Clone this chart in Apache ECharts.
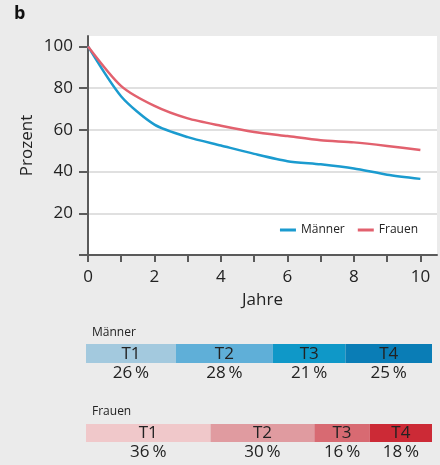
<!DOCTYPE html>
<html>
<head>
<meta charset="utf-8">
<script src="https://cdn.jsdelivr.net/npm/echarts@6/dist/echarts.min.js"></script>
<style>
html,body{margin:0;padding:0;background:#ebebeb;}
#c{width:440px;height:465px;}
</style>
</head>
<body>
<div id="c"></div>
<script>
// Data
var years = [0,1,2,3,4,5,6,7,8,9,10];
var maenner = [100,76,62.5,56.5,52.5,48.5,45,43.5,41.5,38.5,36.5];
var frauen  = [100,81,71.5,65.5,62,59,57,55,54,52.3,50.3];
var yTicks = [0,20,40,60,80,100];
var yLabels = [20,40,60,80,100];
var xTicks = [0,1,2,3,4,5,6,7,8,9,10];
var xLabels = [0,2,4,6,8,10];
var stadien = ['T1','T2','T3','T4'];
var maennerAnteil = [26,28,21,25];
var frauenAnteil  = [36,30,16,18];

var FONT = '"Open Sans", "Noto Sans", sans-serif';
var menColors = ['#a3c9de','#5fafd8','#0f98c8','#0a7db6'];
var womenColors = ['#f0c8ca','#e09ba0','#d86a72','#cc2a36'];
var axisCol = '#5a5a5a';

var chart = echarts.init(document.getElementById('c'), null, {renderer:'canvas'});

function barSeries(values, colors, stackName, axisIdx){
  return values.map(function(v,i){
    return {
      type:'bar', name: stadien[i], stack: stackName,
      xAxisIndex: axisIdx, yAxisIndex: axisIdx,
      barWidth: '100%',
      data:[v],
      itemStyle:{color: colors[i]},
      silent:true,
      label:{
        show:true, position:'inside', offset:[0,10],
        formatter: '{t|' + stadien[i] + '}\n{p|' + v + '\u2009%}',
        rich:{
          t:{fontSize:17, lineHeight:19, color:'#222', fontFamily:FONT},
          p:{fontSize:17, lineHeight:19, color:'#222', fontFamily:FONT}
        }
      }
    };
  });
}

var option = {
  backgroundColor:'#ebebeb',
  animation:false,
  textStyle:{fontFamily:FONT},
  graphic:[
    {type:'text', left:14, top:5, style:{text:'b', font:'bold 18px ' + FONT, fill:'#111'}},
    {type:'text', left:92, top:327, style:{text:'Männer', font:'12px ' + FONT, fill:'#222'}},
    {type:'text', left:92, top:406, style:{text:'Frauen', font:'12px ' + FONT, fill:'#222'}}
  ],
  legend:{
    data:['Männer','Frauen'],
    right:17, top:219,
    icon:'rect', itemWidth:16, itemHeight:3, itemGap:13,
    textStyle:{fontSize:12, color:'#222', fontFamily:FONT}
  },
  grid:[
    {left:88, right:3, top:36, bottom:210, show:true, backgroundColor:'#fff', borderWidth:0},
    {left:86, right:8, top:344, height:19},
    {left:86, right:8, top:424, height:18}
  ],
  xAxis:[
    {
      gridIndex:0, type:'value', min:0, max:10.5, interval:1,
      name:'Jahre', nameLocation:'middle', nameGap:37, nameMoveOverlap:false,
      nameTextStyle:{fontSize:17, color:'#222', fontFamily:FONT},
      axisLine:{show:true, onZero:false, lineStyle:{color:axisCol, width:2}},
      axisTick:{show:true, length:7, customValues:xTicks, lineStyle:{color:axisCol, width:2}},
      axisLabel:{customValues:xLabels, fontSize:17, color:'#222', margin:14, fontFamily:FONT},
      splitLine:{show:false}
    },
    {gridIndex:1, type:'value', min:0, max:100, show:false},
    {gridIndex:2, type:'value', min:0, max:100, show:false}
  ],
  yAxis:[
    {
      gridIndex:0, type:'value', min:0, max:105, interval:20,
      name:'Prozent', nameLocation:'middle', nameGap:52, nameRotate:90, nameMoveOverlap:false,
      nameTextStyle:{fontSize:17, color:'#222', fontFamily:FONT},
      axisLine:{show:true, lineStyle:{color:axisCol, width:2}},
      axisTick:{show:true, length:9, customValues:yTicks, lineStyle:{color:axisCol, width:2}},
      axisLabel:{customValues:yLabels, fontSize:17, color:'#222', margin:15, fontFamily:FONT},
      splitLine:{show:true, showMinLine:false, showMaxLine:false, lineStyle:{color:'#e0e0e0', width:2}}
    },
    {gridIndex:1, type:'category', data:['m'], show:false},
    {gridIndex:2, type:'category', data:['f'], show:false}
  ],
  series:[
    {
      type:'line', name:'Männer', xAxisIndex:0, yAxisIndex:0,
      data: years.map(function(x,i){return [x, maenner[i]];}),
      showSymbol:false, smooth:0.25,
      lineStyle:{color:'#1b9bcf', width:2.5}, itemStyle:{color:'#1b9bcf'}
    },
    {
      type:'line', name:'Frauen', xAxisIndex:0, yAxisIndex:0,
      data: years.map(function(x,i){return [x, frauen[i]];}),
      showSymbol:false, smooth:0.25,
      lineStyle:{color:'#e2616e', width:2.5}, itemStyle:{color:'#e2616e'}
    }
  ].concat(barSeries(maennerAnteil, menColors, 'm', 1))
   .concat(barSeries(frauenAnteil, womenColors, 'f', 2))
};
chart.setOption(option);
</script>
</body>
</html>
